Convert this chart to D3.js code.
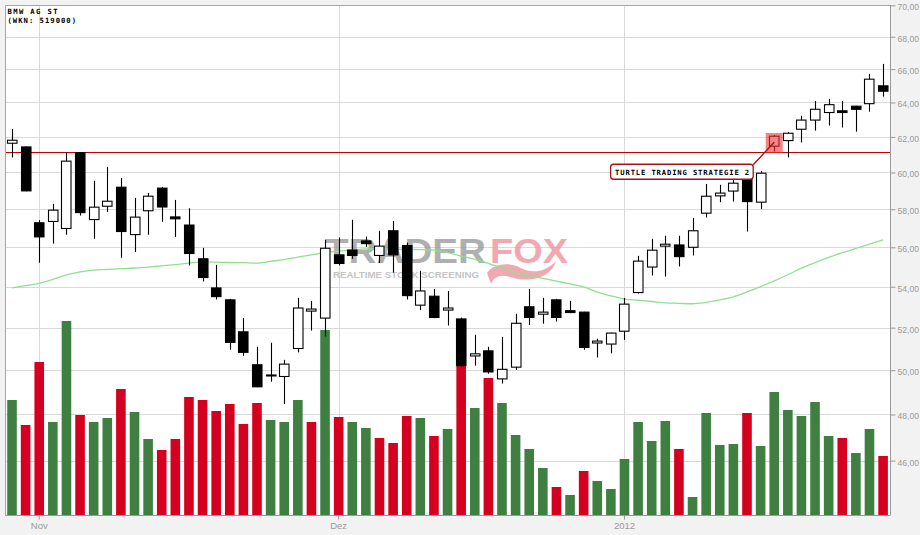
<!DOCTYPE html>
<html><head><meta charset="utf-8">
<script src="https://cdn.jsdelivr.net/npm/d3@7"></script>
<style>
html,body{margin:0;padding:0;background:#f2f2f2;}
svg{display:block;}
</style></head><body>
<svg id="c" width="920" height="535"></svg>
<script>
const titleLines = ["BMW AG ST", "(WKN: 519000)"];
const dates = [
 "2011-10-28","2011-10-31",
 "2011-11-01","2011-11-02","2011-11-03","2011-11-04",
 "2011-11-07","2011-11-08","2011-11-09","2011-11-10","2011-11-11",
 "2011-11-14","2011-11-15","2011-11-16","2011-11-17","2011-11-18",
 "2011-11-21","2011-11-22","2011-11-23","2011-11-24","2011-11-25",
 "2011-11-28","2011-11-29","2011-11-30",
 "2011-12-01","2011-12-02",
 "2011-12-05","2011-12-06","2011-12-07","2011-12-08","2011-12-09",
 "2011-12-12","2011-12-13","2011-12-14","2011-12-15","2011-12-16",
 "2011-12-19","2011-12-20","2011-12-21","2011-12-22","2011-12-23",
 "2011-12-27","2011-12-28","2011-12-29","2011-12-30",
 "2012-01-02","2012-01-03","2012-01-04","2012-01-05","2012-01-06",
 "2012-01-09","2012-01-10","2012-01-11","2012-01-12","2012-01-13",
 "2012-01-16","2012-01-17","2012-01-18","2012-01-19","2012-01-20",
 "2012-01-23","2012-01-24","2012-01-25","2012-01-26","2012-01-27"];
const open = [61.64,61.43,57.28,57.35,56.98,61.11,57.45,58.16,59.19,56.66,
 57.92,59.14,57.59,57.16,55.41,53.94,53.35,51.80,50.25,49.76,
 49.71,51.01,52.80,52.46,55.61,55.86,56.33,55.58,56.86,56.09,
 53.09,53.53,52.85,52.42,50.66,50.90,49.60,50.14,53.01,52.65,
 53.35,52.82,52.75,51.27,51.22,51.83,53.71,54.99,56.06,56.12,
 56.00,57.79,58.72,58.98,59.80,58.38,61.47,61.79,62.44,62.97,
 63.41,63.51,63.78,63.93,64.99];
const high = [62.46,61.45,57.42,58.29,61.11,61.13,59.54,60.31,59.70,58.61,
 58.88,59.21,58.50,58.05,55.97,55.10,53.40,52.47,51.09,51.28,
 50.48,53.45,53.30,56.39,56.51,57.44,56.56,56.86,57.38,56.24,
 54.80,53.89,53.79,52.49,51.66,51.09,51.56,52.67,53.89,53.45,
 53.40,53.30,52.77,51.47,51.76,53.44,55.56,56.44,56.60,56.60,
 57.54,59.37,59.32,59.81,59.90,60.09,62.11,62.29,63.22,64.09,
 64.21,64.09,63.80,65.71,66.32];
const low = [60.83,58.97,55.21,56.19,56.65,57.66,56.44,57.86,55.46,55.76,
 56.65,57.33,56.54,55.07,54.26,53.37,50.95,50.67,49.22,49.47,
 48.47,50.83,51.86,51.58,55.07,55.41,56.02,55.19,54.71,53.37,
 52.85,52.46,52.10,50.17,50.21,49.84,49.39,50.01,52.13,52.19,
 52.29,52.70,50.95,50.59,50.78,51.42,53.66,54.56,54.51,55.02,
 55.58,57.56,58.38,58.41,56.82,58.01,61.17,60.84,61.68,62.36,
 62.65,62.54,62.30,63.46,64.35];
const close = [61.81,58.99,56.54,57.95,60.63,57.82,58.11,58.43,56.82,57.58,
 58.70,58.12,57.49,55.68,54.46,53.51,51.30,50.83,49.24,49.78,
 50.28,52.95,52.90,55.95,55.17,55.58,56.19,56.06,55.61,53.56,
 53.79,52.49,52.95,50.21,50.76,49.92,50.04,52.21,52.49,52.75,
 52.49,52.73,51.06,51.36,51.74,53.14,55.29,55.85,56.16,55.52,
 56.86,58.70,58.87,59.41,58.41,59.96,62.04,62.21,62.97,63.60,
 63.87,63.41,63.60,65.39,64.67];
// volume in thousand shares
const volume = [2300,1800,3060,1860,3880,2000,1860,1940,2520,2060,
 1520,1300,1520,2360,2300,2080,2220,1820,2240,1900,
 1860,2300,1860,3700,1960,1860,1740,1540,1440,1980,
 1940,1580,1720,2980,2140,2740,2240,1600,1320,940,
 560,400,880,680,520,1120,1860,1480,1880,1320,
 360,2040,1400,1420,2040,1380,2460,2100,1980,2260,
 1580,1540,1240,1720,1180];
const movingAvg = [53.94,54.05,54.17,54.37,54.59,54.74,54.83,54.87,54.91,54.94,
 54.99,55.05,55.11,55.19,55.25,55.24,55.22,55.21,55.19,55.28,
 55.37,55.50,55.61,55.72,55.80,55.86,55.92,55.92,55.90,55.89,
 55.88,55.85,55.72,55.55,55.38,55.18,54.94,54.71,54.56,54.42,
 54.28,54.14,53.99,53.73,53.55,53.39,53.33,53.27,53.20,53.18,
 53.16,53.23,53.35,53.50,53.74,54.01,54.29,54.60,54.93,55.21,
 55.48,55.72,55.94,56.16,56.39];
const yTicks = [46,48,50,52,54,56,58,60,62,64,66,68,70];
const yDomain = [43.75, 70];
const volDomain = [0, 5000];
const xTickDates = ["2011-11-01","2011-12-01","2012-01-02"];
const xTickLabels = ["Nov","Dez","2012"];
const breakoutLevel = 61.13;
const signalDate = "2012-01-17";
const signalText = "TURTLE TRADING STRATEGIE 2";

const svg = d3.select("#c");
const L = 5, R = 890, T = 5.3, B = 515;

const x = d3.scaleBand().domain(dates).range([5.2, 889.9]).padding(0);
const cx = d => x(d) + x.bandwidth()/2;
const y = d3.scaleLog().domain(yDomain).range([B, T]);
const yv = d3.scaleLinear().domain(volDomain).range([B, B - 250]);

// plot background
svg.append("rect").attr("x", L).attr("y", 5).attr("width", R - L).attr("height", B - 5).attr("fill", "#fff");

// grid
const grid = svg.append("g");
grid.selectAll("line.h").data(yTicks).join("line")
  .attr("x1", L).attr("x2", R)
  .attr("y1", d => Math.round(y(d)) + 0.5).attr("y2", d => Math.round(y(d)) + 0.5)
  .attr("stroke", "#d9d9d9").attr("stroke-width", 1);
grid.selectAll("line.v").data(xTickDates).join("line")
  .attr("x1", d => Math.round(cx(d)) + 0.5).attr("x2", d => Math.round(cx(d)) + 0.5)
  .attr("y1", 5).attr("y2", B)
  .attr("stroke", "#d9d9d9").attr("stroke-width", 1);

// watermark
const wm = svg.append("g");
wm.append("text").attr("x", 325).attr("y", 263).text("TRADER")
  .attr("font-family", "Liberation Sans, Arial, sans-serif").attr("font-weight", "bold")
  .attr("font-size", 35).attr("fill", "#8e8e8e").attr("opacity", 0.7)
  .attr("textLength", 161).attr("lengthAdjust", "spacingAndGlyphs");
wm.append("text").attr("x", 490).attr("y", 263).text("FOX")
  .attr("font-family", "Liberation Sans, Arial, sans-serif").attr("font-weight", "bold")
  .attr("font-size", 35).attr("fill", "#ef9aa3").attr("opacity", 0.85)
  .attr("textLength", 78).attr("lengthAdjust", "spacingAndGlyphs");
wm.append("path")
  .attr("d", "M487,273 C494,263 510,262 521,268 C532,274 546,272 556,261 C551,279 527,283 510,277 C500,274 494,277 491,284 Z")
  .attr("fill", "#ef9aa3").attr("opacity", 0.85);
wm.append("text").attr("x", 333).attr("y", 277.5).text("REALTIME STOCK SCREENING")
  .attr("font-family", "Liberation Sans, Arial, sans-serif").attr("font-weight", "bold")
  .attr("font-size", 9).attr("fill", "#c4c4c4")
  .attr("textLength", 146).attr("lengthAdjust", "spacingAndGlyphs");

// volume
const idx = d3.range(dates.length);
const upDay = i => i === 0 ? close[i] >= open[i] : close[i] >= close[i-1];
svg.append("g").selectAll("rect").data(idx).join("rect")
  .attr("x", i => cx(dates[i]) - 4.8).attr("width", 9.6)
  .attr("y", i => yv(volume[i])).attr("height", i => B - yv(volume[i]))
  .attr("fill", i => upDay(i) ? "#3f8042" : "#d5001f");

// moving average
svg.append("path").datum(idx)
  .attr("d", d3.line().x(i => cx(dates[i])).y(i => y(movingAvg[i])).curve(d3.curveMonotoneX))
  .attr("fill", "none").attr("stroke", "#8fe08f").attr("stroke-width", 1.3);

// breakout line
svg.append("line").attr("x1", L).attr("x2", R)
  .attr("y1", Math.round(y(breakoutLevel)) + 0.5).attr("y2", Math.round(y(breakoutLevel)) + 0.5)
  .attr("stroke", "#c40000").attr("stroke-width", 1.2);

// candles
const cg = svg.append("g");
cg.selectAll("line").data(idx).join("line")
  .attr("x1", i => Math.round(cx(dates[i])) + 0.5).attr("x2", i => Math.round(cx(dates[i])) + 0.5)
  .attr("y1", i => y(high[i])).attr("y2", i => y(low[i]))
  .attr("stroke", "#000").attr("stroke-width", 1.1);
cg.selectAll("rect").data(idx).join("rect")
  .attr("x", i => Math.round(cx(dates[i]) - 5) + 0.5).attr("width", 9.5)
  .attr("y", i => y(Math.max(open[i], close[i])))
  .attr("height", i => Math.max(1, Math.abs(y(open[i]) - y(close[i]))))
  .attr("fill", i => close[i] >= open[i] ? "#fff" : "#000")
  .attr("stroke", "#000").attr("stroke-width", 1.1);

// signal highlight
const si = dates.indexOf(signalDate);
const sx = cx(signalDate);
svg.append("rect").attr("x", sx - 8.5).attr("width", 17)
  .attr("y", y(high[si]) - 2).attr("height", y(low[si]) - y(high[si]) + 3.5)
  .attr("fill", "#ee3434").attr("opacity", 0.6);
const yb = y(breakoutLevel);
const lblR = sx - 21, lblT = yb + 12, lblW = 142.6, lblH = 15;
svg.append("line").attr("x1", lblR).attr("y1", lblT + 0.5)
  .attr("x2", sx).attr("y2", y((open[si] + close[si]) / 2) + 1)
  .attr("stroke", "#a31515").attr("stroke-width", 1.4);
svg.append("rect").attr("x", lblR - lblW).attr("y", lblT).attr("width", lblW).attr("height", lblH)
  .attr("rx", 3).attr("fill", "#fff").attr("stroke", "#a31515").attr("stroke-width", 1.3);
svg.append("text").attr("x", lblR - lblW + 4.5).attr("y", lblT + 10.6).text(signalText)
  .attr("font-family", "DejaVu Sans Mono, monospace").attr("font-weight", "bold")
  .attr("font-size", 7.2).attr("fill", "#000")
  .attr("textLength", 134).attr("lengthAdjust", "spacing");

// frame
svg.append("path").attr("d", `M${L+0.5},${B} V5.5 H${R}`).attr("fill", "none").attr("stroke", "#a6a6a6");

// axes
const fmt = d3.format(".2f");
const yAxis = svg.append("g").attr("transform", `translate(${R + 0.5},0)`)
  .call(d3.axisRight(y).tickValues(yTicks).tickSize(5).tickPadding(2)
    .tickFormat(d => fmt(d).replace(".", ",")));
yAxis.select(".domain").attr("stroke", "#999").attr("d", `M0,5V${B}`);
yAxis.selectAll(".tick line").attr("stroke", "#999");
yAxis.selectAll(".tick text").attr("fill", "#9a9a9a").attr("font-size", 9)
  .attr("font-family", "Liberation Sans, Arial, sans-serif").attr("dy", "0.5em")
  .attr("textLength", 21.5).attr("lengthAdjust", "spacingAndGlyphs");

const xAxis = svg.append("g").attr("transform", `translate(0,${B + 0.5})`)
  .call(d3.axisBottom(x).tickValues(xTickDates).tickSize(4).tickPadding(3)
    .tickFormat(d => xTickLabels[xTickDates.indexOf(d)]));
xAxis.select(".domain").attr("stroke", "#999").attr("d", `M${L},0H${R + 0.5}`);
xAxis.selectAll(".tick line").attr("stroke", "#999");
xAxis.selectAll(".tick text").attr("fill", "#9a9a9a").attr("font-size", 9.5)
  .attr("font-family", "Liberation Sans, Arial, sans-serif");

// title
svg.append("g").selectAll("text").data(titleLines).join("text")
  .attr("x", 7.5).attr("y", (d, i) => 14 + i * 8.5).text(d => d)
  .attr("font-family", "DejaVu Sans Mono, monospace").attr("font-weight", "bold")
  .attr("font-size", 7.2).attr("fill", "#000")
  .attr("textLength", (d, i) => i === 0 ? 50 : 68.5).attr("lengthAdjust", "spacing");
</script>
</body></html>
